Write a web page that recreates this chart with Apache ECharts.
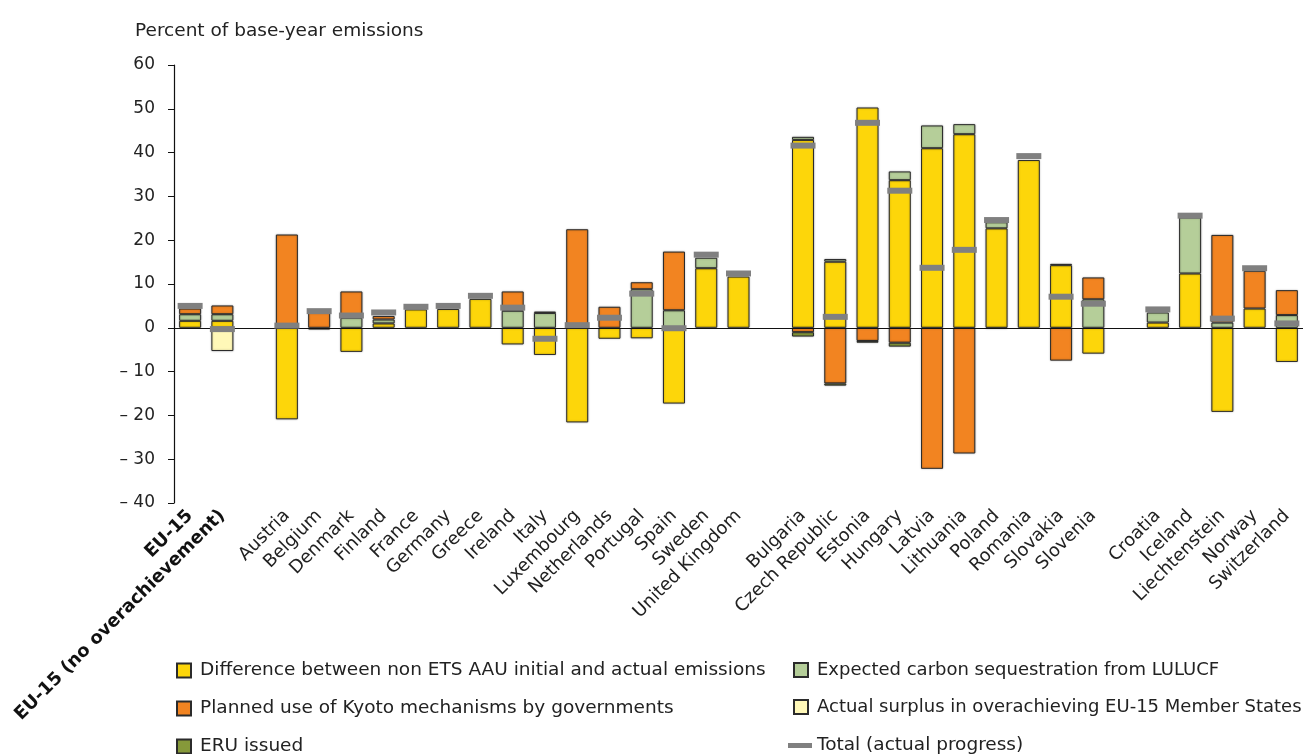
<!DOCTYPE html>
<html>
<head>
<meta charset="utf-8">
<script src="https://cdn.jsdelivr.net/npm/echarts@6/dist/echarts.min.js"></script>
<style>html,body{margin:0;padding:0;background:#fff}#c{width:1303px;height:754px}</style>
</head>
<body>
<div id="c"></div>
<script>
const categories = ['EU-15','EU-15 (no overachievement)','',
  'Austria','Belgium','Denmark','Finland','France','Germany','Greece','Ireland','Italy','Luxembourg','Netherlands','Portugal','Spain','Sweden','United Kingdom','',
  'Bulgaria','Czech Republic','Estonia','Hungary','Latvia','Lithuania','Poland','Romania','Slovakia','Slovenia','',
  'Croatia','Iceland','Liechtenstein','Norway','Switzerland'];

const difference = [1.6,1.6,null, -20.9,-0.4,-5.5,1.0,4.2,4.3,6.6,-3.8,-6.2,-21.6,-2.5,-2.4,-17.3,13.6,11.7,null,
  42.9,15.1,50.3,33.7,41.0,44.2,22.7,38.3,14.3,-5.9,null, 1.2,12.4,-19.2,4.4,-7.8];
const lulucf = [1.5,1.5,null, null,null,2.3,0.9,null,null,null,3.9,3.4,null,null,8.8,4.0,2.4,null,null,
  0.7,0.6,null,2.0,5.2,2.3,1.4,null,0.3,6.5,null, 2.3,12.8,1.2,null,2.9];
const kyoto = [1.3,2.0,null, 21.3,3.5,6.0,0.8,null,null,null,4.4,0.3,22.5,4.8,1.6,13.4,null,null,null,
  -1.0,-12.7,-3.0,-3.4,-32.2,-28.7,null,null,-7.5,5.0,null, null,null,20.0,8.6,5.7];
const eru = [null,null,null, null,null,null,null,null,null,null,null,null,null,null,null,null,null,null,null,
  -1.0,-0.5,-0.4,-0.9,null,null,-0.2,null,null,null,null, null,null,null,null,null];
const surplus = [null,-5.3,null, null,null,null,null,null,null,null,null,null,null,null,null,null,null,null,null,
  null,null,null,null,null,null,null,null,null,null,null, null,null,null,null,null];
const total = [5.0,-0.3,null, 0.5,3.8,2.8,3.5,4.8,5.0,7.3,4.6,-2.5,0.6,2.3,7.8,-0.1,16.7,12.4,null,
  41.6,2.5,46.8,31.3,13.7,17.8,24.6,39.2,7.1,5.5,null, 4.2,25.6,2.1,13.6,1.0];

const names = {
  diff: 'Difference between non ETS AAU initial and actual emissions',
  kyoto: 'Planned use of Kyoto mechanisms by governments',
  eru: 'ERU issued',
  lulucf: 'Expected carbon sequestration from LULUCF',
  surplus: 'Actual surplus in overachieving EU-15 Member States',
  total: 'Total (actual progress)'
};

const FONT = 'DejaVu Sans';
const toData = a => a.map(v => v === null ? '-' : v);
function barSeries(name, data, color) {
  return {
    name, type: 'bar', stack: 'all', barWidth: 22, data: toData(data),
    itemStyle: { color, borderColor: '#2b2b2b', borderWidth: 1, shadowColor: 'rgba(0,0,0,0.3)', shadowBlur: 2 },
    emphasis: { disabled: true }
  };
}

const series = [
  barSeries(names.diff, difference, '#FDD60A'),
  barSeries(names.lulucf, lulucf, '#B5CE99'),
  barSeries(names.kyoto, kyoto, '#F28421'),
  barSeries(names.eru, eru, '#86993A'),
  barSeries(names.surplus, surplus, '#FFF8B8'),
  {
    name: names.total, type: 'scatter', data: toData(total), symbol: 'rect', symbolSize: [25, 6],
    itemStyle: { color: '#808080', opacity: 1 }, z: 5, emphasis: { disabled: true },
    markLine: { silent: true, symbol: 'none', label: { show: false },
      lineStyle: { color: '#111', type: 'solid', width: 1.2 }, data: [{ yAxis: 0 }] }
  }
];

const legendText = { fontFamily: FONT, fontSize: 18.5, color: '#222', padding: [0, 0, 0, 4] };
const legendText2 = { fontFamily: FONT, fontSize: 18, color: '#222', padding: [0, 0, 0, 4] };
const option = {
  animation: false,
  textStyle: { fontFamily: FONT },
  title: { text: 'Percent of base-year emissions', left: 130, top: 17,
    textStyle: { fontFamily: FONT, fontSize: 18.5, fontWeight: 'normal', color: '#222' } },
  grid: { left: 174, top: 65, height: 438, width: 1131 },
  legend: [
    { orient: 'vertical', left: 176, top: 661, height: 150, padding: 0, itemGap: 19, itemWidth: 14, itemHeight: 14,
      icon: 'rect', textStyle: legendText, selectedMode: false,
      data: [names.diff, names.kyoto, names.eru] },
    { orient: 'vertical', left: 793, top: 661, height: 150, padding: 0, itemGap: 19, itemWidth: 14, itemHeight: 14,
      icon: 'rect', textStyle: legendText2, selectedMode: false,
      data: [names.lulucf, names.surplus] },
    { orient: 'vertical', left: 788, top: 736, height: 60, padding: 0, itemWidth: 24, itemHeight: 5,
      textStyle: { fontFamily: FONT, fontSize: 18.5, color: '#222' }, selectedMode: false,
      data: [{ name: names.total, icon: 'rect' }] }
  ],
  xAxis: {
    type: 'category', data: categories,
    axisLine: { show: false }, axisTick: { show: false },
    axisLabel: {
      interval: 0, rotate: 45, margin: 10, fontFamily: FONT, fontSize: 18, color: '#222',
      formatter: (v, i) => i < 2 ? '{b|' + v + '}' : v,
      rich: { b: { fontWeight: 'bold', fontFamily: FONT, fontSize: 18, color: '#111' } }
    }
  },
  yAxis: {
    type: 'value', min: -40, max: 60, interval: 10,
    splitLine: { show: false },
    axisLine: { show: true, lineStyle: { color: '#111', width: 1.2 } },
    axisTick: { show: true, length: 6, lineStyle: { color: '#111' } },
    axisLabel: { margin: 19, fontFamily: FONT, fontSize: 17, color: '#222',
      formatter: v => v < 0 ? '\u2013 ' + Math.abs(v) : String(v) }
  },
  series
};
echarts.init(document.getElementById('c'), null, { renderer: 'canvas' }).setOption(option);
</script>
</body>
</html>
